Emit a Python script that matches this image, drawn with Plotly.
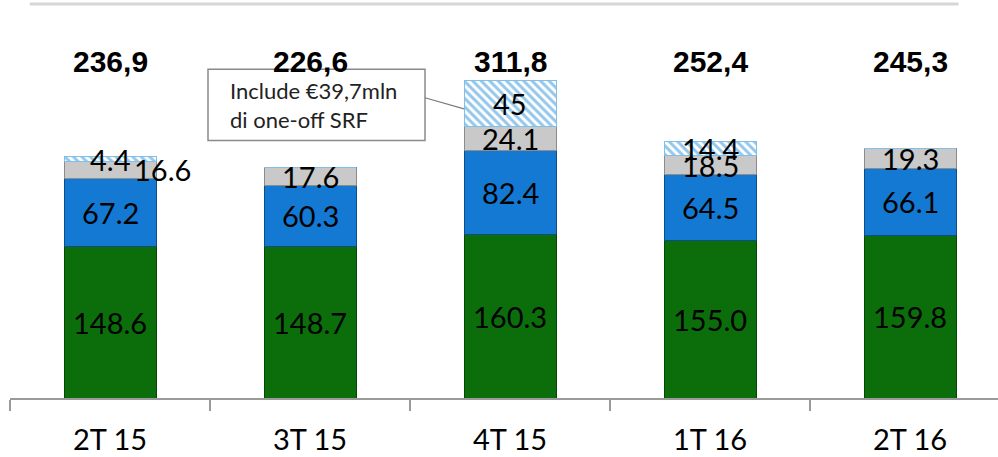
import plotly.graph_objects as go

# ---- data ----
categories = ["2T 15", "3T 15", "4T 15", "1T 16", "2T 16"]
core = [148.6, 148.7, 160.3, 155.0, 159.8]        # green
fees = [67.2, 60.3, 82.4, 64.5, 66.1]             # blue
other = [16.6, 17.6, 24.1, 18.5, 19.3]            # gray
one_off = [4.4, 0, 45, 14.4, 0]                   # hatched
total_labels = ["236,9", "226,6", "311,8", "252,4", "245,3"]
callout_text = "Include €39,7mln<br>di one-off SRF"

# ---- style ----
GREEN, GREEN_LINE = "#0b6e0b", "#064806"
BLUE, BLUE_LINE = "#1479d2", "#0c4d88"
GRAY, GRAY_LINE = "#c9c9c9", "#8c8c8c"
HATCH = "#2a8fd8"
LABEL_FONT = dict(family="Lato, Open Sans, sans-serif", size=29, color="black")
BAR_W = 0.46

fig = go.Figure()
series = [
    (core, GREEN, GREEN_LINE, None),
    (fees, BLUE, BLUE_LINE, None),
    (other, GRAY, GRAY_LINE, None),
    (one_off, "white", "#7fbfe8", dict(shape="\\", fgcolor=HATCH, bgcolor="white", size=6, solidity=0.5)),
]
for vals, col, lcol, pat in series:
    marker = dict(color=col, line=dict(color=lcol, width=1))
    if pat:
        marker["pattern"] = pat
    fig.add_trace(go.Bar(x=categories, y=vals, width=BAR_W, marker=marker,
                         textposition="none", hoverinfo="skip", showlegend=False))

# segment labels at midpoints
label_xshift = {(0, 2): 52}
annotations = []
for ci, cat in enumerate(categories):
    base = 0
    for si, vals in enumerate([core, fees, other, one_off]):
        v = vals[ci]
        if v > 0:
            txt = f"{v:g}" if si == 3 else f"{v:.1f}"
            annotations.append(dict(x=cat, y=base + v / 2, xref="x", yref="y", text=txt,
                                    showarrow=False, font=LABEL_FONT,
                                    xshift=label_xshift.get((ci, si), 0)))
        base += v
    annotations.append(dict(x=cat, y=0.892, xref="x", yref="paper", text=f"<b>{total_labels[ci]}</b>",
                            showarrow=False,
                            font=dict(family="Liberation Sans, Arial, sans-serif", size=30, color="black")))

# callout text
annotations.append(dict(x=0.59, y=288, xref="x", yref="y", text=callout_text, showarrow=False,
                        xanchor="left", align="left",
                        font=dict(family="Lato, Open Sans, sans-serif", size=22, color="#222")))

shapes = [
    # callout box
    dict(type="rect", xref="x", yref="y", x0=0.49, x1=1.575, y0=253, y1=323,
         line=dict(color="#8a8a8a", width=1.5), fillcolor="white", layer="above"),
    # connector
    dict(type="line", xref="x", yref="y", x0=1.575, x1=1.77, y0=295, y1=284,
         line=dict(color="#7a7a7a", width=1.2)),
    # top frame edge
    dict(type="line", xref="paper", yref="paper", x0=0.02, x1=0.96, y0=0.99, y1=0.99,
         line=dict(color="#d6d6d6", width=3)),
]

fig.update_layout(
    width=998, height=457,
    margin=dict(l=10, r=0, t=0, b=59),
    barmode="stack",
    plot_bgcolor="white", paper_bgcolor="white",
    annotations=annotations, shapes=shapes,
    xaxis=dict(type="category", range=[-0.5, 4.44], showline=True, linecolor="#9a9a9a", linewidth=2,
               ticks="outside", tickson="boundaries", ticklen=11, tickcolor="#9a9a9a", tickwidth=2,
               tickfont=dict(family="Lato, Open Sans, sans-serif", size=29, color="black"),
               ticklabelstandoff=15, showgrid=False, zeroline=False),
    yaxis=dict(range=[0, 391], visible=False, showgrid=False, zeroline=False),
)

fig.write_html("out.html", config={"displayModeBar": False},
               post_script="document.body.style.margin='0';")
